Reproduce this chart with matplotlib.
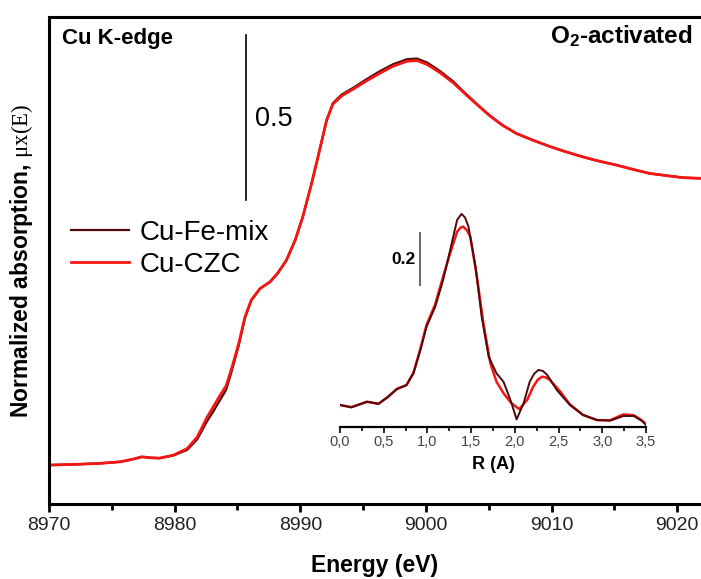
import numpy as np
import matplotlib
matplotlib.use("Agg")
import matplotlib.pyplot as plt
from matplotlib.ticker import MultipleLocator, FuncFormatter

plt.rcParams['font.family'] = ['Liberation Sans', 'DejaVu Sans']
plt.rcParams['mathtext.fontset'] = 'custom'
plt.rcParams['mathtext.rm'] = 'Liberation Serif'
plt.rcParams['mathtext.it'] = 'Liberation Serif:italic'
plt.rcParams['mathtext.bf'] = 'Liberation Sans:bold'

# XANES, Cu K-edge (normalized, pre-edge = 0)
energy = [8970.0, 8972.0, 8974.0, 8975.7, 8976.7, 8977.4, 8978.1, 8978.8, 8979.9,
          8981.0, 8981.8, 8982.6, 8983.1, 8983.6, 8984.1, 8984.5, 8985.1, 8985.6,
          8986.1, 8986.8, 8987.6, 8988.2, 8988.9, 8989.6, 8990.2, 8990.9, 8991.6,
          8992.1, 8992.6, 8993.3, 8994.2, 8995.3, 8996.3, 8997.4, 8998.5, 8999.3,
          9000.1, 9001.1, 9002.2, 9002.7, 9003.5, 9004.3, 9005.1, 9006.1, 9007.2,
          9008.5, 9009.9, 9011.1, 9012.5, 9013.8, 9015.2, 9016.5, 9017.8, 9019.2,
          9020.5, 9021.9]
xanes_czc = [0.000, 0.002, 0.005, 0.010, 0.018, 0.025, 0.022, 0.021, 0.030,
             0.050, 0.085, 0.146, 0.178, 0.210, 0.240, 0.288, 0.368, 0.449,
             0.500, 0.535, 0.555, 0.581, 0.621, 0.682, 0.752, 0.853, 0.964,
             1.045, 1.094, 1.119, 1.139, 1.165, 1.187, 1.209, 1.224, 1.226,
             1.214, 1.190, 1.158, 1.140, 1.112, 1.085, 1.058, 1.030, 1.005,
             0.985, 0.965, 0.950, 0.934, 0.921, 0.909, 0.896, 0.884, 0.877,
             0.871, 0.869]
xanes_femix = [0.000, 0.002, 0.005, 0.010, 0.018, 0.025, 0.022, 0.021, 0.029,
               0.046, 0.078, 0.134, 0.164, 0.196, 0.228, 0.279, 0.362, 0.446,
               0.499, 0.535, 0.556, 0.582, 0.621, 0.682, 0.752, 0.853, 0.964,
               1.046, 1.097, 1.123, 1.143, 1.170, 1.193, 1.215, 1.230, 1.232,
               1.220, 1.195, 1.162, 1.143, 1.114, 1.086, 1.059, 1.030, 1.005,
               0.985, 0.965, 0.950, 0.934, 0.921, 0.909, 0.896, 0.884, 0.877,
               0.871, 0.869]

# EXAFS Fourier transform magnitude (inset)
r_femix = [0.00, 0.13, 0.31, 0.44, 0.55, 0.65, 0.76, 0.84, 0.92, 0.99, 1.09, 1.18,
           1.26, 1.34, 1.39, 1.43, 1.47, 1.55, 1.62, 1.70, 1.79, 1.87, 1.95, 2.02,
           2.10, 2.17, 2.22, 2.27, 2.32, 2.37, 2.48, 2.63, 2.78, 2.94, 3.09, 3.24,
           3.36, 3.45, 3.50]
ft_femix = [0.084, 0.075, 0.097, 0.088, 0.116, 0.144, 0.160, 0.205, 0.294, 0.383, 0.460, 0.562,
            0.676, 0.791, 0.814, 0.800, 0.765, 0.613, 0.422, 0.269, 0.205, 0.173, 0.103, 0.029,
            0.091, 0.173, 0.203, 0.218, 0.214, 0.199, 0.141, 0.084, 0.046, 0.027, 0.024, 0.042,
            0.042, 0.024, 0.008]
r_czc = [0.00, 0.13, 0.31, 0.44, 0.55, 0.65, 0.76, 0.84, 0.92, 0.99, 1.09, 1.18,
         1.26, 1.34, 1.38, 1.41, 1.45, 1.49, 1.56, 1.64, 1.72, 1.79, 1.87, 1.96,
         2.05, 2.14, 2.21, 2.26, 2.31, 2.35, 2.40, 2.52, 2.63, 2.78, 2.94, 3.09,
         3.24, 3.36, 3.45, 3.50]
ft_czc = [0.084, 0.076, 0.096, 0.089, 0.115, 0.146, 0.160, 0.207, 0.300, 0.390, 0.470, 0.575,
          0.664, 0.746, 0.762, 0.765, 0.752, 0.727, 0.587, 0.396, 0.243, 0.173, 0.129, 0.091,
          0.068, 0.103, 0.154, 0.180, 0.192, 0.190, 0.180, 0.135, 0.086, 0.046, 0.026, 0.026,
          0.048, 0.045, 0.026, 0.010]

c_femix = '#4e0a0a'
c_czc = '#f41515'

fig = plt.figure(figsize=(7.01, 5.79), dpi=100)
ax = fig.add_axes([49/701, 1-504/579, 652/701, 487/579])

ax.plot(energy, xanes_czc, color=c_czc, lw=2.0, label='Cu-CZC', zorder=2)
ax.plot(energy, xanes_femix, color=c_femix, lw=1.6, label='Cu-Fe-mix', zorder=1)

ax.set_xlim(8970, 9021.9)
ax.set_ylim(-0.118, 1.358)
ax.set_yticks([])
ax.xaxis.set_major_locator(MultipleLocator(10))
ax.xaxis.set_minor_locator(MultipleLocator(5))
ax.tick_params(axis='x', which='major', direction='out', length=6, width=2,
               labelsize=14, pad=3, labelcolor='#222222')
ax.tick_params(axis='x', which='minor', direction='out', length=4, width=2)
for s in ['left', 'top', 'bottom']:
    ax.spines[s].set_linewidth(2.2)
ax.spines['right'].set_visible(False)

ax.set_xlabel('Energy (eV)', fontsize=16.5, fontweight='bold', labelpad=15)
ax.set_ylabel(r'Normalized absorption, $\mathrm{\mu x(E)}$', fontsize=16.5,
              fontweight='bold', labelpad=10)

# scale bar
ax.plot([8985.67, 8985.67], [0.803, 1.303], color='black', lw=1.2)
ax.text(8986.4, 1.05, '0.5', fontsize=19.5, va='center', ha='left')

ax.text(0.02, 0.955, 'Cu K-edge', transform=ax.transAxes, fontsize=16,
        fontweight='bold', va='center', ha='left')
ax.text(0.987, 0.96, r'O$_\mathbf{2}$-activated', transform=ax.transAxes, fontsize=17.5,
        fontweight='bold', va='center', ha='right')

handles, labels = ax.get_legend_handles_labels()
ax.legend(handles[::-1], labels[::-1], loc='upper left', bbox_to_anchor=(71/701, 1-220/579),
          bbox_transform=fig.transFigure, frameon=False, fontsize=20,
          handlelength=2.1, handletextpad=0.36, labelspacing=0.22, borderaxespad=0,
          borderpad=0)

# inset: FT of EXAFS
ins = fig.add_axes([340/701, 1-427/579, 306/701, 227/579])
ins.patch.set_alpha(0)
ins.plot(r_czc, ft_czc, color=c_czc, lw=1.8)
ins.plot(r_femix, ft_femix, color=c_femix, lw=1.4)
ins.set_xlim(0, 3.5)
ins.set_ylim(0, 0.867)
ins.set_yticks([])
for s in ['left', 'top', 'right']:
    ins.spines[s].set_visible(False)
ins.spines['bottom'].set_linewidth(1.6)
ins.xaxis.set_major_locator(MultipleLocator(0.5))
ins.xaxis.set_minor_locator(MultipleLocator(0.25))
ins.xaxis.set_major_formatter(FuncFormatter(lambda v, p: f'{v:.1f}'.replace('.', ',')))
ins.tick_params(axis='x', which='major', direction='out', length=4, width=1.2,
                labelsize=10.5, pad=2, labelcolor='#444444')
ins.tick_params(axis='x', which='minor', direction='out', length=3, width=1.2)
ins.set_xlabel('R (A)', fontsize=13, fontweight='bold', labelpad=5)
ins.plot([0.92, 0.92], [0.541, 0.74], color='#666666', lw=1.4)
ins.text(0.87, 0.64, '0.2', fontsize=12.5, fontweight='bold', ha='right', va='center')

fig.savefig('out.png', dpi=100)
